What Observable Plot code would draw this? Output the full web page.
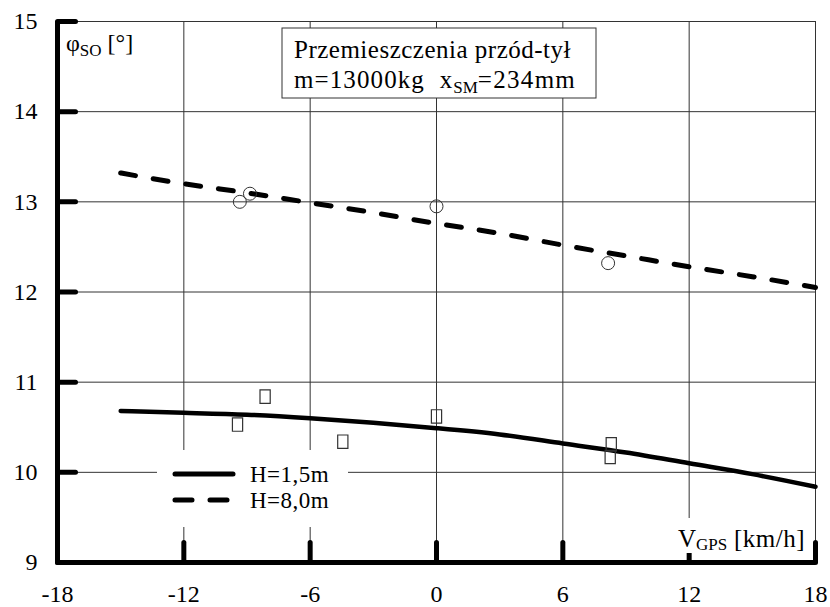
<!DOCTYPE html>
<html><head><meta charset="utf-8">
<script src="https://cdn.jsdelivr.net/npm/d3@7"></script>
<script src="https://cdn.jsdelivr.net/npm/@observablehq/plot@0.6"></script>
<style>
body{margin:0;background:#fff}
#chart{position:relative;width:830px;height:607px}
</style>
</head><body><div id="chart"></div>
<script>
// ---- data ----
const xTicks = [-18, -12, -6, 0, 6, 12, 18];
const yTicks = [9, 10, 11, 12, 13, 14, 15];
const xGrid = [-12, -6, 0, 6, 12, 18];
const yGrid = [10, 11, 12, 13, 14, 15];

// fitted curve H=1,5m (solid)
const fitLowX = [-15, -12, -9, -6, -3, 0, 3, 6, 9, 12, 15, 18];
const fitLowY = [10.68, 10.66, 10.64, 10.60, 10.55, 10.49, 10.42, 10.32, 10.22, 10.10, 9.98, 9.84];
// fitted curve H=8,0m (dashed)
const fitHighX = [-15, -12, -9, -6, -3, 0, 3, 6, 9, 12, 15, 18];
const fitHighY = [13.32, 13.20, 13.10, 12.99, 12.88, 12.76, 12.65, 12.52, 12.40, 12.28, 12.17, 12.05];

// measured points H=8,0m (circles)
const ptsHighX = [-9.34, -8.86, 0.0, 8.15];
const ptsHighY = [13.0, 13.09, 12.95, 12.32];
// measured points H=1,5m (squares)
const ptsLowX = [-9.45, -8.14, -4.45, 0.0, 8.3, 8.25];
const ptsLowY = [10.53, 10.84, 10.34, 10.62, 10.31, 10.17];

const legendLabels = ["H=1,5m", "H=8,0m"];
const titleLine1 = "Przemieszczenia przód-tył";

// ---- build tables ----
const lowLine = fitLowX.map((x, i) => ({x, y: fitLowY[i]}));
const highLine = fitHighX.map((x, i) => ({x, y: fitHighY[i]}));
const highPts = ptsHighX.map((x, i) => ({x, y: ptsHighY[i]}));
const lowPts = ptsLowX.map((x, i) => ({x, y: ptsLowY[i]}));

const FONT = "'Liberation Serif', 'Times New Roman', 'DejaVu Serif', serif";
const tickShape = {draw(c, l) { c.moveTo(0, 0); c.lineTo(0, -l); }};
const rectSymbol = {draw(c, size) {
  const s = Math.sqrt(size);
  const w = s * 0.32, h = s * 0.42;
  c.moveTo(-w, -h); c.lineTo(w, -h); c.lineTo(w, h); c.lineTo(-w, h); c.closePath();
}};
const fmt = d => (d < 0 ? "-" + (-d) : String(d));

const plot = Plot.plot({
  width: 830, height: 607,
  marginLeft: 57, marginRight: 15, marginTop: 21, marginBottom: 45,
  x: {domain: [-18, 18]},
  y: {domain: [9, 15]},
  style: {fontFamily: FONT, fontSize: "24px", color: "#000", background: "#fff"},
  marks: [
    Plot.ruleX(xGrid, {stroke: "#333", strokeWidth: 1}),
    Plot.ruleY(yGrid, {stroke: "#333", strokeWidth: 1}),
    Plot.line(lowLine, {x: "x", y: "y", curve: "natural", stroke: "#000", strokeWidth: 4.5, strokeLinecap: "round"}),
    Plot.line(highLine, {x: "x", y: "y", curve: "natural", stroke: "#000", strokeWidth: 5, strokeDasharray: "15,18", strokeLinecap: "round"}),
    Plot.dot(highPts, {x: "x", y: "y", r: 6.5, stroke: "#333", strokeWidth: 1, fill: "none"}),
    Plot.dot(lowPts, {x: "x", y: "y", r: 9, symbol: rectSymbol, stroke: "#333", strokeWidth: 1.2, fill: "none"}),
    Plot.ruleX([-18], {stroke: "#000", strokeWidth: 5}),
    Plot.ruleY([9], {stroke: "#000", strokeWidth: 5}),
    Plot.vector(yTicks, {x: -18, y: d => d, length: 18, rotate: 90, anchor: "start", shape: tickShape, stroke: "#000", strokeWidth: 5, strokeLinecap: "round"}),
    Plot.vector(xTicks, {x: d => d, y: 9, length: 20, rotate: 0, anchor: "start", shape: tickShape, stroke: "#000", strokeWidth: 5}),
    Plot.axisX({ticks: xTicks, tickSize: 0, tickPadding: 22, tickFormat: fmt, label: null, fontSize: 24}),
    Plot.axisY({ticks: yTicks, tickSize: 0, tickPadding: 20, tickFormat: fmt, label: null, fontSize: 24})
  ]
});

document.getElementById("chart").appendChild(plot);

// ---- annotations ----
const svg = d3.select(plot);
const g = svg.append("g").attr("font-family", FONT).attr("fill", "#000")
  .attr("text-anchor", "start").style("text-anchor", "start");

// title box
g.append("rect").attr("x", 282).attr("y", 28).attr("width", 314).attr("height", 70)
  .attr("fill", "#fff").attr("stroke", "#333").attr("stroke-width", 1);
g.append("text").attr("x", 294).attr("y", 58).attr("font-size", 25).attr("letter-spacing", 0.5).text(titleLine1);
const t2 = g.append("text").attr("x", 294).attr("y", 88).attr("font-size", 25);
t2.append("tspan").attr("letter-spacing", 1.1).text("m=13000kg\u00a0\u00a0x");
t2.append("tspan").attr("font-size", 17).attr("dy", 5).text("SM");
t2.append("tspan").attr("dy", -5).attr("letter-spacing", 1.3).text("=234mm");

// legend
g.append("rect").attr("x", 157).attr("y", 450).attr("width", 191).attr("height", 77).attr("fill", "#fff");
g.append("line").attr("x1", 175).attr("x2", 233).attr("y1", 474).attr("y2", 474)
  .attr("stroke", "#000").attr("stroke-width", 5).attr("stroke-linecap", "round");
g.append("line").attr("x1", 175).attr("x2", 233).attr("y1", 500).attr("y2", 500)
  .attr("stroke", "#000").attr("stroke-width", 5).attr("stroke-linecap", "round").attr("stroke-dasharray", "17,18");
g.append("text").attr("x", 250).attr("y", 482).attr("font-size", 23).attr("letter-spacing", 0.5).text(legendLabels[0]);
g.append("text").attr("x", 250).attr("y", 508).attr("font-size", 23).attr("letter-spacing", 0.5).text(legendLabels[1]);

// y-axis title
const yt = g.append("text").attr("x", 66).attr("y", 51).attr("font-size", 24);
yt.append("tspan").text("φ");
yt.append("tspan").attr("font-size", 17).attr("dy", 5).text("SO");
yt.append("tspan").attr("dy", -5).text(" [°]");

// x-axis title
g.append("rect").attr("x", 674).attr("y", 518).attr("width", 136).attr("height", 35).attr("fill", "#fff");
const xt = g.append("text").attr("x", 678).attr("y", 547).attr("font-size", 25);
xt.append("tspan").text("V");
xt.append("tspan").attr("font-size", 17).attr("dy", 3).text("GPS");
xt.append("tspan").attr("dy", -3).attr("letter-spacing", 0.5).text(" [km/h]");
</script>
</body></html>
